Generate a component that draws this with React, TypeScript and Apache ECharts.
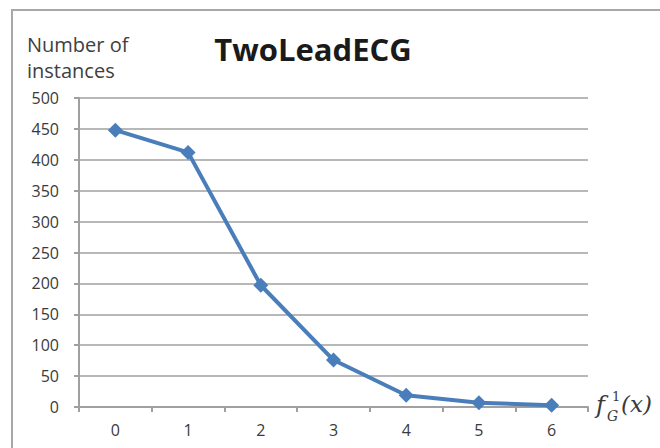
import React, { useEffect, useRef } from "react";
import * as echarts from "echarts";

const categories = ["0", "1", "2", "3", "4", "5", "6"];
const instances = [448, 412, 197, 76, 19, 7, 3];
const titleText = "TwoLeadECG";
const yAxisTitle = ["Number of", "instances"];

export default function App() {
  const ref = useRef<HTMLDivElement>(null);
  useEffect(() => {
    if (!ref.current) return;
    const chart = echarts.init(ref.current, null, { renderer: "svg" });
    const font = "'Open Sans', 'DejaVu Sans', sans-serif";
    const serif = "'DejaVu Serif', 'Liberation Serif', serif";
    const mathColor = "#3a3a3a";
    chart.setOption({
      animation: false,
      backgroundColor: "#ffffff",
      grid: { left: 79, right: 72, top: 98, bottom: 41, containLabel: false },
      title: {
        text: titleText,
        left: 308,
        textAlign: "center",
        top: 28,
        textStyle: { fontFamily: font, fontWeight: "bold", fontSize: 31, color: "#1a1a1a" },
      },
      xAxis: {
        type: "category",
        data: categories,
        boundaryGap: true,
        axisLine: { lineStyle: { color: "#a0a0a0", width: 2 } },
        axisTick: { show: true, alignWithLabel: false, length: 5, lineStyle: { color: "#a0a0a0", width: 2 } },
        axisLabel: { color: "#3a3a3a", fontSize: 16, fontFamily: font, margin: 15 },
        splitLine: { show: false },
      },
      yAxis: {
        type: "value",
        min: 0,
        max: 500,
        interval: 50,
        axisLine: { show: true, lineStyle: { color: "#a0a0a0", width: 2 } },
        axisTick: { show: true, length: 5, lineStyle: { color: "#a0a0a0", width: 2 } },
        axisLabel: { color: "#3a3a3a", fontSize: 16, fontFamily: font, margin: 20 },
        splitLine: { show: true, lineStyle: { color: "#b8b8b8", width: 2 } },
      },
      graphic: [
        {
          type: "rect",
          shape: { x: 12, y: 10, width: 700, height: 500 },
          style: { fill: "none", stroke: "#a8a8a8", lineWidth: 2 },
          silent: true,
          z: -1,
        },
        {
          type: "text",
          left: 27,
          top: 31,
          style: {
            text: yAxisTitle.join("\n"),
            fontSize: 20,
            lineHeight: 26,
            fontFamily: font,
            fill: "#404040",
          },
        },
        {
          type: "text",
          x: 596,
          y: 393,
          style: { text: "f", fontFamily: serif, fontStyle: "italic", fontSize: 24, fill: mathColor },
        },
        {
          type: "text",
          x: 612,
          y: 390,
          style: { text: "1", fontFamily: serif, fontSize: 13, fill: mathColor },
        },
        {
          type: "text",
          x: 607,
          y: 409,
          style: { text: "G", fontFamily: serif, fontStyle: "italic", fontSize: 14, fill: mathColor },
        },
        {
          type: "text",
          x: 621,
          y: 392,
          style: { text: "(x)", fontFamily: serif, fontStyle: "italic", fontSize: 23, fill: mathColor },
        },
      ],
      series: [
        {
          type: "line",
          data: instances,
          symbol: "diamond",
          symbolSize: 15,
          lineStyle: { color: "#4a7ebb", width: 4 },
          itemStyle: { color: "#4a7ebb" },
        },
      ],
    });
    return () => chart.dispose();
  }, []);
  return (
    <div
      ref={ref}
      style={{ position: "fixed", left: 0, top: 0, width: 660, height: 448 }}
    />
  );
}
